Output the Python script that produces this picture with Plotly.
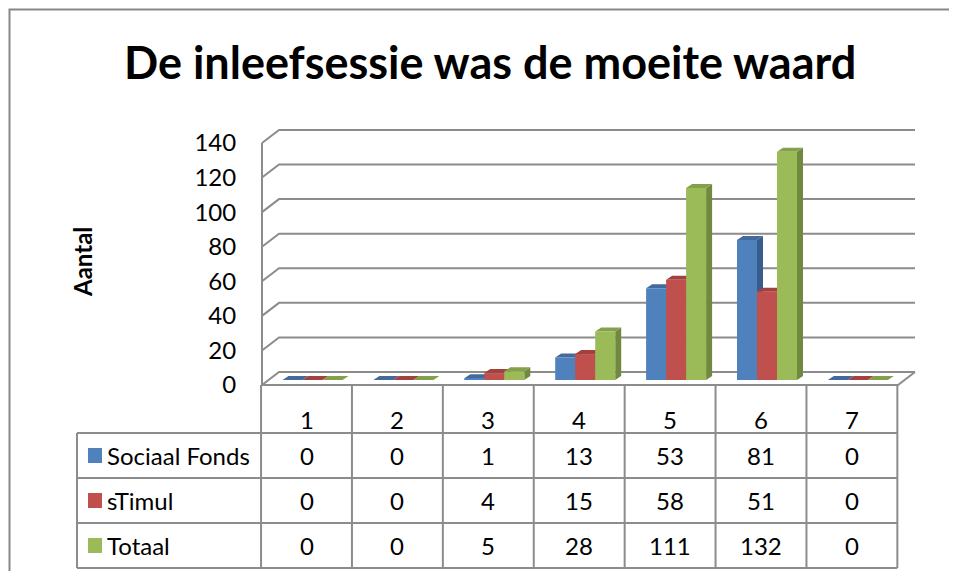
import plotly.graph_objects as go

# ---------------- data ----------------
categories = [1, 2, 3, 4, 5, 6, 7]
series_names = ["Sociaal Fonds", "sTimul", "Totaal"]
sociaal_fonds = [0, 0, 1, 13, 53, 81, 0]
stimul = [0, 0, 4, 15, 58, 51, 0]
totaal = [0, 0, 5, 28, 111, 132, 0]
y_ticks = [0, 20, 40, 60, 80, 100, 120, 140]
title_text = "De inleefsessie was de moeite waard"
y_title = "Aantal"

# ---------------- styling / geometry ----------------
VW, VH = 957, 579          # browser viewport
OFF = 8                    # default page body margin
W, H = VW - OFF, VH - 2 * OFF
FONT = "Lato"
front_cols = ["#4F81BD", "#C0504D", "#9BBB59"]
side_cols = ["#385D8A", "#8C3A38", "#71893F"]
top_cols = ["#44699B", "#A3413F", "#83A04A"]
LINE = "#8C8C8C"

# screen-pixel layout constants
CAT1_PX, CAT_PX = 306.5, 90.9      # pixel centre of category 1, pixels per category
BASE_PX, UNIT_PX = 380.0, 1.729    # bar base pixel row, pixels per value unit
FRONT_PX, BACK_PX = 385.0, 372.0   # floor front / back edge
WALL_FL, WALL_BL, WALL_BR, WALL_FR = 262, 279, 915, 898


def xd(px):
    return 1 + (px - CAT1_PX) / CAT_PX


def yd(py):
    return (BASE_PX - py) / UNIT_PX


def xp(px):
    return (px - OFF) / W


def yp(py):
    return 1 - (py - OFF) / H


BAR_W = 20 / CAT_PX
BAR_OFF0 = -24 / CAT_PX
DX = 6 / CAT_PX
DY = 4 / UNIT_PX

series = [sociaal_fonds, stimul, totaal]
shapes = []

# back wall gridlines + side wall
for v in y_ticks:
    yf = yd(FRONT_PX) + v
    yb = yd(BACK_PX) + v
    shapes.append(dict(type="path", layer="below", xref="x", yref="y",
                       path=f"M {xd(WALL_FL)},{yf} L {xd(WALL_BL)},{yb} L {xd(WALL_BR)},{yb}",
                       line=dict(color=LINE, width=2)))
shapes.append(dict(type="line", layer="below", xref="x", yref="y",
                   x0=xd(WALL_FL), x1=xd(WALL_FL), y0=yd(FRONT_PX), y1=yd(FRONT_PX) + max(y_ticks),
                   line=dict(color=LINE, width=2)))
# floor front + right edge
shapes.append(dict(type="path", layer="below", xref="x", yref="y",
                   path=f"M {xd(WALL_FL)},{yd(FRONT_PX)} L {xd(WALL_FR)},{yd(FRONT_PX)} L {xd(WALL_BR)},{yd(BACK_PX)}",
                   line=dict(color=LINE, width=2)))

# 3D side and top faces of the bars (drawn below the bar fronts)
for ci, c in enumerate(categories):
    for si, vals in enumerate(series):
        v = vals[ci]
        x0 = c + BAR_OFF0 + si * BAR_W
        x1 = x0 + BAR_W
        if v > 0:
            shapes.append(dict(type="path", layer="below", xref="x", yref="y",
                               path=f"M {x1},0 L {x1+DX},{DY} L {x1+DX},{v+DY} L {x1},{v} Z",
                               fillcolor=side_cols[si], line=dict(width=0)))
        shapes.append(dict(type="path", layer="below", xref="x", yref="y",
                           path=f"M {x0},{v} L {x0+DX},{v+DY} L {x1+DX},{v+DY} L {x1},{v} Z",
                           fillcolor=top_cols[si], line=dict(width=0)))

fig = go.Figure()
for si, (name, vals) in enumerate(zip(series_names, series)):
    fig.add_trace(go.Bar(x=categories, y=vals, base=0, name=name,
                         offset=BAR_OFF0 + si * BAR_W, width=BAR_W,
                         marker=dict(color=front_cols[si], line=dict(width=0)),
                         showlegend=False, hoverinfo="skip"))

# ---------------- data table ----------------
TBL_L = 77
col_edges = [c - 0.5 for c in categories] + [categories[-1] + 0.5]
row_edges_px = [FRONT_PX, 433, 478, 523, 568]

for xe in col_edges:
    shapes.append(dict(type="line", xref="x", yref="y", x0=xe, x1=xe,
                       y0=yd(row_edges_px[0]), y1=yd(row_edges_px[-1]),
                       line=dict(color=LINE, width=2)))
shapes.append(dict(type="line", xref="x", yref="y", x0=xd(TBL_L), x1=xd(TBL_L),
                   y0=yd(row_edges_px[1]), y1=yd(row_edges_px[-1]),
                   line=dict(color=LINE, width=2)))
for ry in row_edges_px[1:]:
    shapes.append(dict(type="line", xref="x", yref="y", x0=xd(TBL_L), x1=col_edges[-1],
                       y0=yd(ry), y1=yd(ry), line=dict(color=LINE, width=2)))

annotations = []
tfont = dict(family=FONT, size=24, color="#000000")
for c in categories:
    annotations.append(dict(x=c, y=yd(419), xref="x", yref="y", text=str(c),
                            showarrow=False, font=tfont, xanchor="center", yanchor="middle"))
for si, (name, vals) in enumerate(zip(series_names, series)):
    ry = (row_edges_px[si + 1] + row_edges_px[si + 2]) / 2
    shapes.append(dict(type="rect", xref="x", yref="y", x0=xd(88), x1=xd(102),
                       y0=yd(ry - 7.5), y1=yd(ry + 7.5), fillcolor=front_cols[si], line=dict(width=0)))
    annotations.append(dict(x=xd(105), y=yd(ry), xref="x", yref="y", text=name,
                            showarrow=False, font=tfont, xanchor="left", yanchor="middle"))
    for c, v in zip(categories, vals):
        annotations.append(dict(x=c, y=yd(ry), xref="x", yref="y", text=str(v),
                                showarrow=False, font=tfont, xanchor="center", yanchor="middle"))

# title and axis title
annotations.append(dict(x=xp(490), y=yp(62), xref="paper", yref="paper", text=title_text,
                        showarrow=False, xanchor="center", yanchor="middle",
                        font=dict(family=FONT, size=45, color="#000000", weight="bold")))
annotations.append(dict(x=xp(82), y=yp(262), xref="paper", yref="paper", text=y_title,
                        showarrow=False, textangle=-90, xanchor="center", yanchor="middle",
                        font=dict(family=FONT, size=24, color="#000000", weight="bold")))

# outer chart border
shapes.append(dict(type="rect", xref="paper", yref="paper", x0=xp(9.5), x1=1.05,
                   y0=-0.05, y1=yp(9.5), line=dict(color="#878787", width=2)))

# value-axis labels sit on the front edge of the wall
front_shift = (BASE_PX - FRONT_PX) / UNIT_PX

fig.update_layout(
    width=W, height=H,
    margin=dict(l=0, r=0, t=0, b=0),
    paper_bgcolor="white", plot_bgcolor="white",
    barmode="overlay",
    xaxis=dict(visible=False, range=[xd(OFF), xd(OFF + W)], fixedrange=True),
    yaxis=dict(visible=True, range=[yd(OFF + H), yd(OFF)], fixedrange=True,
               anchor="free", position=xp(WALL_FL), side="left",
               tickmode="array", tickvals=[v + front_shift for v in y_ticks],
               ticktext=[str(v) for v in y_ticks],
               ticks="outside", ticklen=21, tickcolor="rgba(0,0,0,0)",
               showgrid=False, zeroline=False, showline=False,
               tickfont=dict(family=FONT, size=24, color="#000000")),
    shapes=shapes,
    annotations=annotations,
    showlegend=False,
)

fig.write_html("out.html")
